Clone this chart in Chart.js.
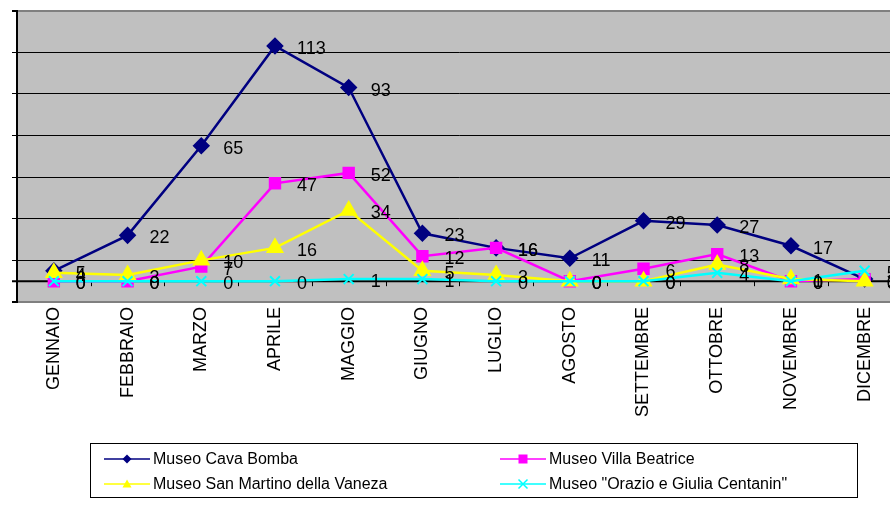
<!DOCTYPE html>
<html>
<head>
<meta charset="utf-8">
<script src="https://cdn.jsdelivr.net/npm/chart.js@4/dist/chart.umd.min.js"></script>
<style>
  html, body { margin: 0; padding: 0; background: #fff; overflow: hidden; width: 890px; height: 505px; }
  #wrap { position: relative; width: 890px; height: 505px; overflow: hidden; }
</style>
</head>
<body>
<div id="wrap"><canvas id="chart" width="912" height="505"></canvas></div>
<script>
var months = ['GENNAIO', 'FEBBRAIO', 'MARZO', 'APRILE', 'MAGGIO', 'GIUGNO',
  'LUGLIO', 'AGOSTO', 'SETTEMBRE', 'OTTOBRE', 'NOVEMBRE', 'DICEMBRE'];
var cavaBomba     = [5, 22, 65, 113, 93, 23, 16, 11, 29, 27, 17, 1];
var villaBeatrice = [0, 0, 7, 47, 52, 12, 16, 0, 6, 13, 0, 1];
var sanMartino    = [4, 3, 10, 16, 34, 5, 3, 0, 0, 8, 1, 0];
var centanin      = [0, 0, 0, 0, 1, 1, 0, 0, 0, 4, 0, 5];
var seriesNames = ['Museo Cava Bomba', 'Museo Villa Beatrice',
  'Museo San Martino della Vaneza', 'Museo "Orazio e Giulia Centanin"'];

var FONT = '"Liberation Sans", Arial, sans-serif';

// grey plot area + zero axis with category ticks
var plotBack = {
  id: 'plotBack',
  beforeDraw: function(chart) {
    var a = chart.chartArea, ctx = chart.ctx;
    ctx.save();
    ctx.fillStyle = '#c0c0c0';
    ctx.fillRect(a.left, a.top, a.right - a.left, a.bottom - a.top);
    ctx.restore();
  },
  beforeDatasetsDraw: function(chart) {
    var a = chart.chartArea, ctx = chart.ctx;
    var y0 = chart.scales.y.getPixelForValue(0);
    var n = months.length, w = (a.right - a.left) / n;
    ctx.save();
    ctx.strokeStyle = '#000';
    ctx.lineWidth = 2;
    ctx.beginPath();
    ctx.moveTo(a.left - 5, y0);
    ctx.lineTo(a.right, y0);
    ctx.stroke();
    ctx.lineWidth = 1;
    for (var i = 1; i < n; i++) {
      var x = Math.round(a.left + i * w) + 0.5;
      ctx.beginPath();
      ctx.moveTo(x, y0);
      ctx.lineTo(x, y0 + 5);
      ctx.stroke();
    }
    ctx.restore();
  }
};

// value labels to the right of each point
var valueLabels = {
  id: 'valueLabels',
  afterDatasetsDraw: function(chart) {
    var ctx = chart.ctx;
    ctx.save();
    ctx.font = '18px ' + FONT;
    ctx.fillStyle = '#000';
    ctx.textBaseline = 'middle';
    ctx.textAlign = 'left';
    chart.data.datasets.forEach(function(ds, di) {
      var meta = chart.getDatasetMeta(di);
      meta.data.forEach(function(pt, i) {
        ctx.fillText(String(ds.data[i]), pt.x + 22, pt.y + 3);
      });
    });
    ctx.restore();
  }
};

function drawMarker(ctx, style, x, y, r, color) {
  ctx.fillStyle = color;
  ctx.strokeStyle = color;
  ctx.beginPath();
  if (style == 'diamond') {
    ctx.moveTo(x, y - r); ctx.lineTo(x + r, y); ctx.lineTo(x, y + r); ctx.lineTo(x - r, y);
    ctx.closePath(); ctx.fill();
  } else if (style == 'square') {
    ctx.fillRect(x - r, y - r, 2 * r, 2 * r);
  } else if (style == 'triangle') {
    ctx.moveTo(x, y - r); ctx.lineTo(x + r, y + r * 0.8); ctx.lineTo(x - r, y + r * 0.8);
    ctx.closePath(); ctx.fill();
  } else {
    ctx.lineWidth = 1.5;
    ctx.moveTo(x - r, y - r); ctx.lineTo(x + r, y + r);
    ctx.moveTo(x + r, y - r); ctx.lineTo(x - r, y + r);
    ctx.stroke();
  }
}

// two-column legend box under the chart
var boxLegend = {
  id: 'boxLegend',
  afterDraw: function(chart) {
    var ctx = chart.ctx;
    var cols = [104, 500], rows = [459, 484];
    var marks = ['diamond', 'square', 'triangle', 'cross'];
    ctx.save();
    ctx.strokeStyle = '#000';
    ctx.lineWidth = 1;
    ctx.strokeRect(90.5, 443.5, 767, 54);
    ctx.font = '16px ' + FONT;
    ctx.textBaseline = 'middle';
    ctx.textAlign = 'left';
    chart.data.datasets.forEach(function(ds, i) {
      var x = cols[i % 2], y = rows[Math.floor(i / 2)];
      ctx.strokeStyle = ds.borderColor;
      ctx.lineWidth = 1.5;
      ctx.beginPath();
      ctx.moveTo(x, y); ctx.lineTo(x + 46, y);
      ctx.stroke();
      drawMarker(ctx, marks[i], x + 23, y, 4.5, ds.borderColor);
      ctx.fillStyle = '#000';
      ctx.fillText(seriesNames[i], x + 49, y + 1);
    });
    ctx.restore();
  }
};

var ctx = document.getElementById('chart').getContext('2d');
var myChart = new Chart(ctx, {
  type: 'line',
  data: {
    labels: months,
    datasets: [{
      label: seriesNames[0],
      data: cavaBomba,
      borderColor: '#000080',
      backgroundColor: '#000080',
      borderWidth: 2.5,
      pointStyle: 'rectRot',
      pointRadius: 7,
      order: 4
    }, {
      label: seriesNames[1],
      data: villaBeatrice,
      borderColor: '#ff00ff',
      backgroundColor: '#ff00ff',
      borderWidth: 2.5,
      pointStyle: 'rect',
      pointRadius: 7,
      order: 3
    }, {
      label: seriesNames[2],
      data: sanMartino,
      borderColor: '#ffff00',
      backgroundColor: '#ffff00',
      borderWidth: 2.5,
      pointStyle: 'triangle',
      pointRadius: 8,
      order: 2
    }, {
      label: seriesNames[3],
      data: centanin,
      borderColor: '#00ffff',
      backgroundColor: '#00ffff',
      borderWidth: 2.5,
      pointStyle: 'crossRot',
      pointRadius: 7,
      pointBorderWidth: 2,
      order: 1
    }]
  },
  options: {
    responsive: false,
    animation: false,
    layout: { padding: { top: 10, left: 0, right: 0, bottom: 0 } },
    plugins: {
      legend: { display: false },
      tooltip: { enabled: false }
    },
    elements: { line: { tension: 0 } },
    scales: {
      x: {
        offset: true,
        grid: { display: false, drawTicks: false, offset: true },
        border: { display: false },
        ticks: {
          color: '#000',
          font: { family: FONT, size: 18 },
          maxRotation: 90,
          minRotation: 90,
          padding: 5,
          autoSkip: false
        },
        afterFit: function(scale) { scale.height = 505 - 302; }
      },
      y: {
        min: -10,
        max: 130,
        ticks: { stepSize: 20, display: false },
        grid: {
          color: function(c) {
            var v = c.tick ? c.tick.value : 0;
            return (v == -10 || v == 130) ? '#808080' : '#000';
          },
          lineWidth: function(c) {
            var v = c.tick ? c.tick.value : 0;
            return (v == -10 || v == 130) ? 2 : 1;
          },
          tickColor: '#000',
          tickLength: 5
        },
        border: { color: '#000', width: 2 },
        afterFit: function(scale) { scale.width = 17; }
      }
    }
  },
  plugins: [plotBack, valueLabels, boxLegend]
});
</script>
</body>
</html>
